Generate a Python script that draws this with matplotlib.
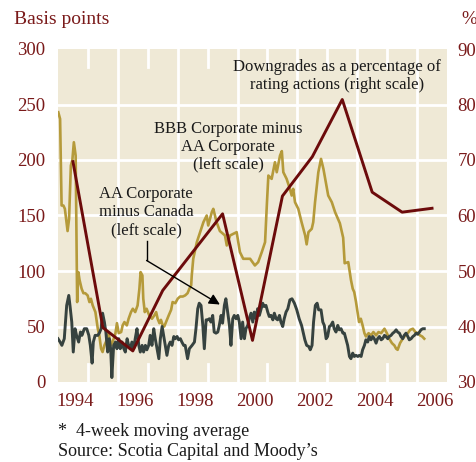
import matplotlib
matplotlib.use("Agg")
import matplotlib.pyplot as plt
import matplotlib.transforms as mtransforms

plt.rcParams['font.family'] = ['Liberation Serif', 'DejaVu Serif']

# ---------------- data ----------------
# Downgrades as % of rating actions (right scale), annual, plotted mid-year
down_years = [1994.5, 1995.5, 1996.5, 1997.5, 1998.5, 1999.5, 2000.5,
              2001.5, 2002.5, 2003.5, 2004.5, 2005.5, 2006.5]
down_pct = [69.7, 39.8, 35.6, 46.5, 53.4, 60.3, 37.5,
            63.5, 70.6, 80.9, 64.2, 60.6, 61.3]

# BBB Corporate minus AA Corporate (left scale), 4-week moving average
bbb_years = [1994.01, 1994.07, 1994.12, 1994.18, 1994.23, 1994.32, 1994.37, 1994.43, 1994.48, 1994.53,
             1994.59, 1994.64, 1994.68, 1994.72, 1994.79, 1994.85, 1994.91, 1994.99, 1995.05, 1995.10,
             1995.16, 1995.25, 1995.33, 1995.38, 1995.44, 1995.49, 1995.55, 1995.60, 1995.69, 1995.77,
             1995.85, 1995.92, 1995.97, 1996.03, 1996.11, 1996.16, 1996.22, 1996.30, 1996.36, 1996.44,
             1996.50, 1996.58, 1996.66, 1996.72, 1996.76, 1996.82, 1996.85, 1996.90, 1996.96, 1997.05,
             1997.14, 1997.22, 1997.28, 1997.33, 1997.39, 1997.44, 1997.50, 1997.55, 1997.61, 1997.70,
             1997.78, 1997.83, 1997.92, 1998.00, 1998.08, 1998.17, 1998.25, 1998.33, 1998.39, 1998.45,
             1998.47, 1998.52, 1998.64, 1998.75, 1998.86, 1998.97, 1999.02, 1999.14, 1999.19, 1999.30,
             1999.41, 1999.58, 1999.64, 1999.75, 1999.97, 2000.08, 2000.19, 2000.42, 2000.58, 2000.69,
             2000.81, 2000.92, 2000.98, 2001.03, 2001.14, 2001.25, 2001.31, 2001.42, 2001.48, 2001.53,
             2001.64, 2001.75, 2001.81, 2001.86, 2001.92, 2002.03, 2002.14, 2002.26, 2002.31, 2002.37,
             2002.48, 2002.53, 2002.59, 2002.70, 2002.79, 2002.87, 2003.03, 2003.15, 2003.26, 2003.42,
             2003.53, 2003.58, 2003.70, 2003.79, 2003.85, 2003.90, 2003.96, 2004.01, 2004.06, 2004.12,
             2004.18, 2004.24, 2004.29, 2004.38, 2004.46, 2004.54, 2004.63, 2004.71, 2004.80, 2004.91,
             2004.99, 2005.07, 2005.16, 2005.24, 2005.30, 2005.35, 2005.43, 2005.52, 2005.61, 2005.69,
             2005.77, 2005.86, 2005.94, 2006.02, 2006.10, 2006.17, 2006.24]
bbb_bp = [243, 237, 159, 159, 156, 136, 147, 195, 200, 216,
          204, 72, 99, 92, 84, 80, 80, 78, 72, 75,
          69, 63, 48, 42, 30, 27, 33, 36, 44, 33,
          38, 44, 53, 44, 45, 51, 54, 51, 57, 63,
          66, 63, 69, 84, 99, 96, 75, 63, 66, 60,
          57, 60, 63, 57, 53, 56, 51, 50, 54, 60,
          65, 72, 71, 75, 77, 77, 78, 80, 84, 87,
          96, 111, 126, 135, 144, 150, 141, 153, 156, 144,
          136, 132, 123, 132, 135, 117, 111, 111, 105, 108,
          117, 126, 160, 186, 183, 198, 189, 204, 208, 189,
          183, 174, 168, 174, 162, 156, 144, 132, 124, 135,
          138, 144, 162, 189, 201, 192, 168, 162, 153, 143,
          130, 107, 108, 92, 84, 81, 72, 63, 54, 57,
          51, 44, 41, 44, 42, 45, 42, 45, 44, 48,
          44, 39, 35, 33, 30, 29, 35, 39, 42, 44,
          47, 48, 45, 44, 42, 41, 39]

# AA Corporate minus Canada (left scale), 4-week moving average
aa_years = [1994.00, 1994.07, 1994.13, 1994.21, 1994.29, 1994.36, 1994.40, 1994.46, 1994.51, 1994.57,
            1994.62, 1994.69, 1994.75, 1994.80, 1994.88, 1994.96, 1995.03, 1995.08, 1995.14, 1995.18,
            1995.24, 1995.33, 1995.38, 1995.44, 1995.49, 1995.55, 1995.60, 1995.66, 1995.71, 1995.76,
            1995.80, 1995.86, 1995.92, 1995.97, 1996.03, 1996.08, 1996.14, 1996.20, 1996.25, 1996.31,
            1996.36, 1996.42, 1996.47, 1996.53, 1996.58, 1996.64, 1996.70, 1996.75, 1996.81, 1996.86,
            1996.92, 1996.97, 1997.03, 1997.08, 1997.14, 1997.20, 1997.25, 1997.31, 1997.37, 1997.42,
            1997.48, 1997.53, 1997.59, 1997.64, 1997.70, 1997.75, 1997.81, 1997.87, 1997.92, 1997.98,
            1998.03, 1998.09, 1998.14, 1998.20, 1998.25, 1998.33, 1998.39, 1998.48, 1998.56, 1998.61,
            1998.67, 1998.72, 1998.78, 1998.84, 1998.89, 1998.95, 1999.00, 1999.06, 1999.11, 1999.17,
            1999.22, 1999.28, 1999.34, 1999.39, 1999.45, 1999.50, 1999.56, 1999.61, 1999.67, 1999.73,
            1999.78, 1999.84, 1999.89, 1999.95, 2000.01, 2000.06, 2000.12, 2000.17, 2000.23, 2000.28,
            2000.34, 2000.39, 2000.45, 2000.51, 2000.56, 2000.62, 2000.67, 2000.73, 2000.78, 2000.84,
            2000.89, 2000.95, 2001.01, 2001.06, 2001.12, 2001.18, 2001.23, 2001.29, 2001.34, 2001.40,
            2001.45, 2001.51, 2001.56, 2001.62, 2001.68, 2001.75, 2001.82, 2001.90, 2001.98, 2002.06,
            2002.14, 2002.20, 2002.25, 2002.31, 2002.38, 2002.43, 2002.49, 2002.54, 2002.60, 2002.66,
            2002.71, 2002.79, 2002.85, 2002.90, 2002.96, 2003.01, 2003.07, 2003.12, 2003.18, 2003.23,
            2003.29, 2003.35, 2003.40, 2003.46, 2003.52, 2003.57, 2003.63, 2003.68, 2003.74, 2003.79,
            2003.85, 2003.90, 2003.96, 2004.02, 2004.07, 2004.13, 2004.18, 2004.24, 2004.29, 2004.35,
            2004.40, 2004.46, 2004.52, 2004.57, 2004.63, 2004.68, 2004.74, 2004.80, 2004.85, 2004.91,
            2004.96, 2005.02, 2005.07, 2005.13, 2005.19, 2005.24, 2005.30, 2005.35, 2005.41, 2005.46,
            2005.52, 2005.57, 2005.63, 2005.69, 2005.74, 2005.80, 2005.86, 2005.91, 2005.97, 2006.02,
            2006.08, 2006.13, 2006.19, 2006.24]
aa_bp = [39, 36, 33, 39, 69, 78, 69, 54, 27, 48,
         42, 36, 45, 42, 48, 48, 42, 33, 17, 36,
         42, 42, 44, 48, 62, 54, 45, 27, 39, 30,
         4, 33, 36, 30, 39, 30, 36, 30, 27, 39,
         33, 30, 36, 30, 39, 48, 33, 27, 33, 27,
         33, 29, 33, 42, 33, 48, 39, 30, 21, 39,
         50, 42, 33, 24, 33, 36, 33, 41, 39, 41,
         38, 39, 36, 33, 33, 21, 30, 33, 36, 48,
         66, 71, 69, 51, 30, 56, 56, 57, 54, 60,
         45, 44, 45, 51, 60, 53, 69, 75, 63, 51,
         33, 57, 60, 57, 60, 54, 39, 54, 39, 48,
         51, 57, 62, 54, 63, 57, 66, 60, 65, 71,
         68, 69, 63, 59, 60, 56, 62, 57, 56, 60,
         54, 50, 57, 63, 66, 74, 75, 71, 65, 57,
         51, 44, 38, 33, 32, 29, 33, 54, 69, 71,
         65, 65, 54, 51, 39, 41, 50, 51, 54, 48,
         45, 51, 47, 48, 44, 44, 38, 33, 23, 21,
         26, 23, 24, 23, 24, 23, 29, 33, 38, 36,
         41, 38, 41, 39, 35, 39, 41, 38, 39, 42,
         41, 39, 41, 42, 44, 45, 47, 45, 44, 41,
         39, 42, 44, 41, 38, 39, 41, 42, 44, 43,
         45, 47, 48, 48]

left_ticks = [0, 50, 100, 150, 200, 250, 300]
right_ticks = [30, 40, 50, 60, 70, 80, 90]
year_labels = ['1994', '1996', '1998', '2000', '2002', '2004', '2006']

# ---------------- style ----------------
BG = '#efe9d6'
GOLD = '#b59a3a'
GRAY = '#36423f'
RED = '#6c0b0b'
LABEL = '#7a1a1a'

fig = plt.figure(figsize=(4.77, 4.62), dpi=100)
W, H = 477, 462
ax = fig.add_axes([58 / W, (H - 382) / H, 389 / W, 333 / H])
ax.set_facecolor(BG)
for s in ax.spines.values():
    s.set_visible(False)

ax.set_xlim(1994, 2007)
ax.set_ylim(1.5, 300)

# grid
for v in left_ticks[1:-1]:
    ax.axhline(v, color='white', lw=2.0, zorder=1)
for yr in range(1996, 2007, 2):
    ax.axvline(yr, color='white', lw=2.0, zorder=1)
trans = mtransforms.blended_transform_factory(ax.transData, ax.transAxes)
for yr in range(1995, 2007, 2):
    ax.plot([yr, yr], [0, 0.053], color='white', lw=2.0, transform=trans, zorder=1)
    ax.plot([yr, yr], [0.947, 1], color='white', lw=2.0, transform=trans, zorder=1)

ax.plot(bbb_years, bbb_bp, color=GOLD, lw=1.9, zorder=3, solid_joinstyle='round')
ax.plot(aa_years, aa_bp, color=GRAY, lw=2.1, zorder=4, solid_joinstyle='round')

ax.set_yticks(left_ticks)
ax.set_yticklabels([str(t) for t in left_ticks])
ax.set_xticks([int(y) + 0.58 for y in year_labels])
ax.set_xticklabels(year_labels)
ax.tick_params(axis='both', length=0, labelsize=13.5, labelcolor=LABEL)
ax.tick_params(axis='y', pad=9)
ax.tick_params(axis='x', pad=8)

ax2 = ax.twinx()
for s in ax2.spines.values():
    s.set_visible(False)
ax2.set_ylim(30 + 1.5 / 5, 90)
ax2.plot(down_years, down_pct, color=RED, lw=2.1, zorder=5)
ax2.set_yticks(right_ticks)
ax2.set_yticklabels([str(t) for t in right_ticks])
ax2.tick_params(axis='y', length=0, labelsize=13.5, labelcolor=LABEL, pad=7.5)

# annotations (placed on left-scale data coordinates)
ax2.text(2003.32, 276, 'Downgrades as a percentage of\nrating actions (right scale)',
         transform=ax.transData, ha='center', va='center', fontsize=12,
         color='#1a1a1a', linespacing=1.15, zorder=6)
ax2.text(1999.68, 212, 'BBB Corporate minus\nAA Corporate\n(left scale)',
         transform=ax.transData, ha='center', va='center', fontsize=12,
         color='#1a1a1a', linespacing=1.15, zorder=6)
ax2.text(1996.94, 153, 'AA Corporate\nminus Canada\n(left scale)',
         transform=ax.transData, ha='center', va='center', fontsize=12,
         color='#1a1a1a', linespacing=1.15, zorder=6)
ax2.plot([1996.96, 1996.96], [127.4, 109.5], color='black', lw=1.0,
         transform=ax.transData, zorder=6)
ax2.annotate('', xy=(1999.41, 69.8), xytext=(1996.96, 109.5),
             xycoords=ax.transData, textcoords=ax.transData,
             arrowprops=dict(arrowstyle='-|>', color='black', lw=1.0,
                             mutation_scale=16, shrinkA=0, shrinkB=0),
             zorder=6)

fig.text(14 / W, 1 - 20 / H, 'Basis points', ha='left', va='center',
         fontsize=14, color=LABEL)
fig.text(469 / W, 1 - 20 / H, '%', ha='center', va='center',
         fontsize=13.5, color=LABEL)
fig.text(58 / W, 1 - 432 / H, '*  4-week moving average', ha='left', va='center',
         fontsize=13, color='#1a1a1a')
fig.text(58 / W, 1 - 452 / H, "Source: Scotia Capital and Moody\u2019s", ha='left',
         va='center', fontsize=13, color='#1a1a1a')

fig.savefig('out.png', dpi=100, facecolor='white')
